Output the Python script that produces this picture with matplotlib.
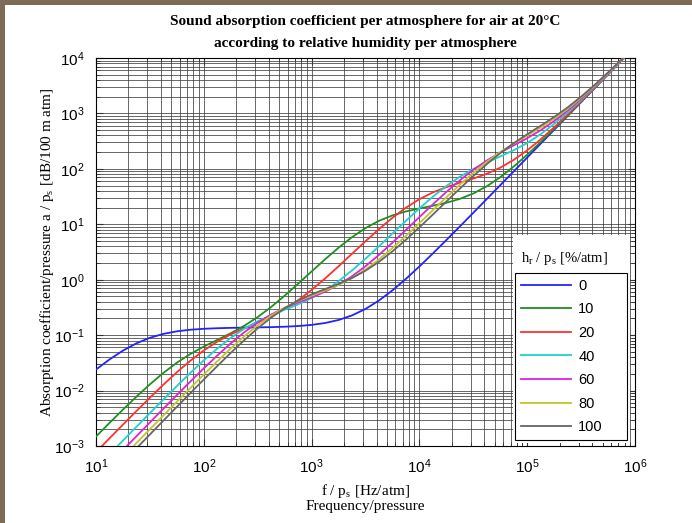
import math
import matplotlib
matplotlib.use('Agg')
import matplotlib.pyplot as plt
from matplotlib.patches import Rectangle
from matplotlib.ticker import LogLocator, FuncFormatter, NullFormatter

plt.rcParams['font.family'] = 'Liberation Sans'

# frequency / pressure [Hz/atm], eighth-decade steps
freq = [10, 13.34, 17.78, 23.71, 31.62, 42.17, 56.23, 74.99,
        100, 133.4, 177.8, 237.1, 316.2, 421.7, 562.3, 749.9,
        1000, 1334, 1778, 2371, 3162, 4217, 5623, 7499,
        1e4, 13335, 17783, 23714, 31623, 42170, 56234, 74989,
        1e5, 133352, 177828, 237137, 316228, 421697, 562341, 749894, 1e6]

# absorption coefficient / pressure [dB/100 m atm]
hum_labels = ['0', '10', '20', '40', '60', '80', '100']
a_0 = [0.02394, 0.03643, 0.05259, 0.07118, 0.08964, 0.1054, 0.1172, 0.1252,
       0.1302, 0.1333, 0.1353, 0.1367, 0.1380, 0.1395, 0.1419, 0.1460,
       0.1530, 0.1655, 0.1876, 0.2270, 0.2969, 0.4213, 0.6425, 1.036,
       1.735, 2.979, 5.191, 9.124, 16.12, 28.56, 50.68, 90.01,
       159.9, 284.3, 505.5, 898.8, 1598, 2842, 5054, 8987, 15982]
a_10 = [0.001484, 0.002606, 0.004533, 0.007762, 0.01296, 0.02082, 0.03178, 0.04570,
        0.06224, 0.08204, 0.1082, 0.1474, 0.2119, 0.3226, 0.5145, 0.8460,
        1.409, 2.335, 3.780, 5.860, 8.538, 11.54, 14.47, 17.06,
        19.32, 21.59, 24.43, 28.73, 35.94, 48.50, 70.69, 110.1,
        180.0, 304.4, 525.6, 918.9, 1618, 2862, 5074, 9007, 16002]
a_20 = [0.0007759, 0.001375, 0.002428, 0.004268, 0.007435, 0.01276, 0.02139, 0.03453,
        0.05296, 0.07625, 0.1031, 0.1330, 0.1687, 0.2181, 0.2956, 0.4264,
        0.6537, 1.052, 1.745, 2.937, 4.941, 8.181, 13.10, 19.94,
        28.38, 37.60, 46.82, 56.11, 66.76, 81.52, 105.0, 145.2,
        215.6, 340.3, 561.6, 955.0, 1654, 2898, 5110, 9043, 16038]
a_40 = [0.0003971, 0.0007053, 0.001252, 0.002219, 0.003924, 0.006908, 0.01207, 0.02081,
        0.03514, 0.05737, 0.08923, 0.1304, 0.1782, 0.2299, 0.2872, 0.3594,
        0.4658, 0.6403, 0.9410, 1.468, 2.393, 4.011, 6.812, 11.56,
        19.36, 31.52, 49.06, 72.07, 99.46, 130.5, 167.3, 216.8,
        293.3, 421.8, 645.3, 1040, 1740, 2985, 5197, 9130, 16125]
a_60 = [0.0002670, 0.0004746, 0.0008433, 0.001497, 0.002656, 0.004701, 0.008291, 0.01453,
        0.02520, 0.04293, 0.07106, 0.1127, 0.1686, 0.2358, 0.3093, 0.3882,
        0.4808, 0.6088, 0.8109, 1.154, 1.752, 2.805, 4.656, 7.890,
        13.47, 22.90, 38.29, 62.08, 96.21, 141.2, 196.8, 265.4,
        357.6, 497.2, 728.1, 1127, 1830, 3076, 5289, 9223, 16218]
a_80 = [0.0002013, 0.0003580, 0.0006362, 0.001131, 0.002007, 0.003560, 0.006301, 0.01111,
        0.01947, 0.03376, 0.05748, 0.09507, 0.1506, 0.2250, 0.3141, 0.4114,
        0.5156, 0.6381, 0.8074, 1.075, 1.530, 2.323, 3.720, 6.180,
        10.49, 17.96, 30.67, 51.64, 84.69, 133.5, 200.4, 287.0,
        399.6, 557.3, 801.6, 1210, 1918, 3167, 5382, 9317, 16313]
a_100 = [0.0001617, 0.0002875, 0.0005111, 0.0009085, 0.001614, 0.002865, 0.005079, 0.008984,
         0.01583, 0.02768, 0.04781, 0.08094, 0.1327, 0.2076, 0.3054, 0.4197,
         0.5429, 0.6766, 0.8398, 1.074, 1.454, 2.104, 3.244, 5.253,
         8.791, 14.99, 25.73, 43.99, 74.13, 121.7, 192.2, 290.1,
         421.0, 599.5, 862.2, 1284, 2002, 3257, 5475, 9412, 16409]

series = [a_0, a_10, a_20, a_40, a_60, a_80, a_100]
colors = ['#2323ff', '#1f8f1f', '#ff3030', '#20d0d0', '#dd22dd', '#c4c428', '#666666']

W, H = 692, 523
fig = plt.figure(figsize=(W / 100, H / 100), dpi=100, facecolor='#7d6a57')
fig.add_artist(Rectangle((5 / W, 0), 1, 1 - 5 / H, transform=fig.transFigure,
                         facecolor='white', edgecolor='none', zorder=-10))

ax = fig.add_axes([96 / W, 1 - 446 / H, (635 - 96) / W, (446 - 58) / H])

for ys, c, lab in zip(series, colors, hum_labels):
    ax.plot(freq, ys, color=c, lw=1.3, label=lab, zorder=3)

ax.set_xscale('log')
ax.set_yscale('log')
ax.set_xlim(1e1, 1e6)
ax.set_ylim(1e-3, 1e4)

for axis in (ax.xaxis, ax.yaxis):
    axis.set_major_locator(LogLocator(base=10, numticks=20))
    axis.set_minor_locator(LogLocator(base=10, subs=range(2, 10), numticks=20))
    axis.set_major_formatter(FuncFormatter(lambda v, p: r'$\mathregular{10^{%d}}$' % round(math.log10(v))))
    axis.set_minor_formatter(NullFormatter())

ax.grid(True, which='both', color='0.25', lw=0.7, alpha=0.8)
ax.tick_params(which='both', direction='in', top=True, right=True, labelsize=11, color='0.2')
ax.tick_params(which='major', length=5)
ax.tick_params(which='minor', length=3)
ax.tick_params(axis='x', which='major', pad=8.5)
ax.tick_params(axis='y', which='major', pad=8)
for s in ax.spines.values():
    s.set_linewidth(0.8)

serif = 'Liberation Serif'
fig.text(0.528, 1 - 32.5 / H, 'Sound absorption coefficient per atmosphere for air at 20°C\n'
         'according to relative humidity per atmosphere',
         ha='center', va='center', fontsize=11, fontweight='bold', family=serif, linespacing=1.8)
ax.set_xlabel('f / p$_\\mathregular{s}$ [Hz/atm]\nFrequency/pressure', family=serif, fontsize=11,
              linespacing=1.05, labelpad=4)
ax.set_ylabel('Absorption coefficient/pressure a / p$_\\mathregular{s}$ [dB/100 m atm]', family=serif,
              fontsize=11)
ax.yaxis.set_label_coords((56 - 96) / (635 - 96), 0.5)

# legend: white backdrop, title above a framed box
ax.add_patch(Rectangle((513 / W, 1 - 443 / H), (630 - 513) / W, (443 - 235) / H,
                       transform=fig.transFigure, facecolor='white', edgecolor='none', zorder=4.5))
ax.text(565 / W, 1 - 258 / H, 'h$_\\mathregular{r}$ / p$_\\mathregular{s}$ [%/atm]', transform=fig.transFigure,
        ha='center', va='center', family=serif, fontsize=10.5, zorder=6)
leg = ax.legend(loc='lower left', bbox_to_anchor=(515 / W, 1 - 440 / H, 112 / W, 0.3),
                bbox_transform=fig.transFigure, mode='expand',
                fontsize=10.5, frameon=True, fancybox=False, framealpha=1, edgecolor='black',
                handlelength=3.45, handletextpad=0.5, labelspacing=0.66, borderpad=0.38, borderaxespad=0)
leg.get_frame().set_linewidth(0.8)

fig.savefig('out.png', dpi=100)
